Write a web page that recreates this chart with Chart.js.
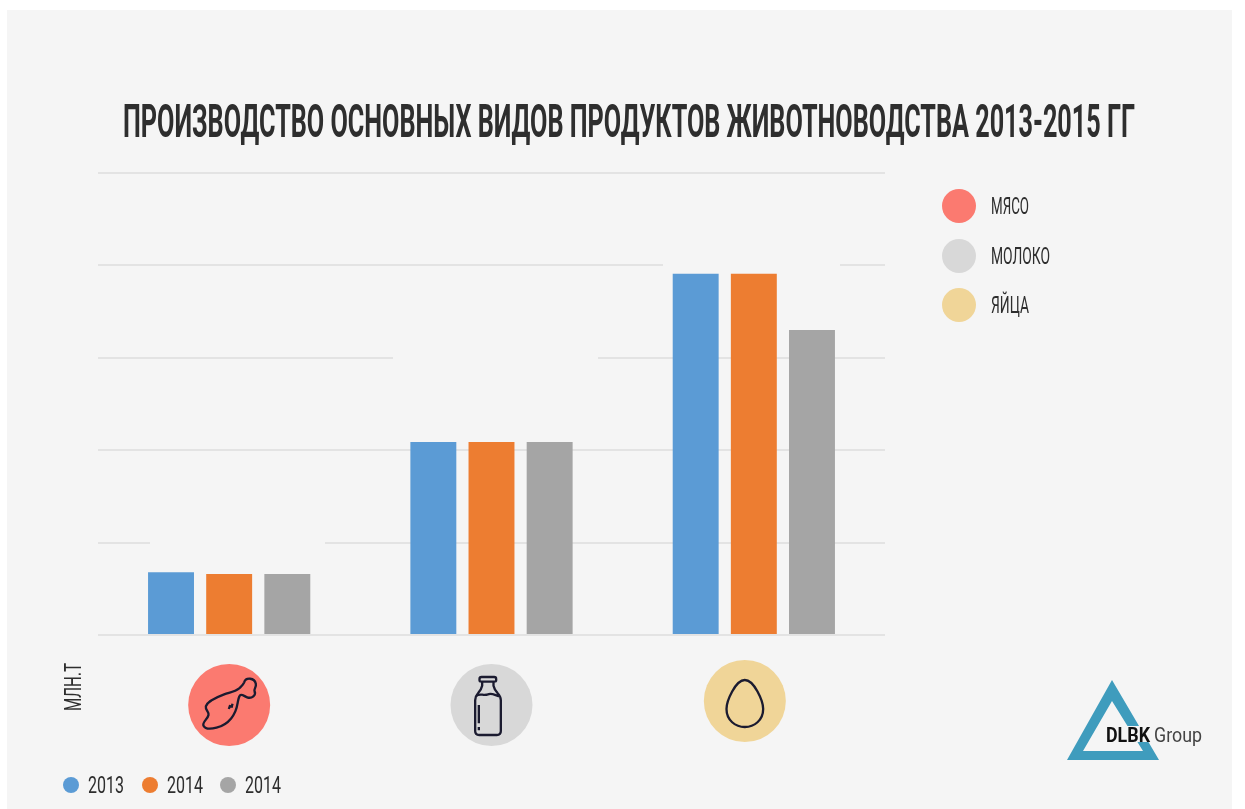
<!DOCTYPE html>
<html lang="ru">
<head>
    <meta charset="UTF-8">
    <title>Производство</title>
    <script src="https://cdn.jsdelivr.net/npm/chart.js"></script>
</head>
<style>
    body{
        margin: 0;
        background: #fff;
    }
    canvas{
        display: block;
    }
</style>
<body>
<canvas id="chart" width="1245" height="809"></canvas>
<script>
    const titleText = 'ПРОИЗВОДСТВО ОСНОВНЫХ ВИДОВ ПРОДУКТОВ ЖИВОТНОВОДСТВА 2013-2015 ГГ';
    const categories = ['МЯСО', 'МОЛОКО', 'ЯЙЦА'];
    const categoryColors = ['#fb7a70', '#d8d8d8', '#f0d598'];
    const seriesNames = ['2013', '2014', '2014'];
    const seriesColors = ['#5b9bd5', '#ed7d31', '#a5a5a5'];
    const series2013 = [0.68, 2.09, 3.91];
    const series2014a = [0.66, 2.09, 3.91];
    const series2014b = [0.66, 2.09, 3.30];
    const unitText = 'МЛН.Т';

    const bg = '#f5f5f5';
    const textColor = '#2e2e2e';
    const iconColor = '#1b1b30';
    const font = '"Liberation Sans Narrow", "Roboto", sans-serif';

    // pieces of the grid that the original has erased: [tick value, from px, to px]
    const gridGaps = [[4, 663, 840], [3, 393, 598], [1, 150, 325]];

    const drumstick = new Path2D('M180 100 C186 94 192 90 195 82 C200 66 226 68 230 86 C232 96 224 102 226 108 C232 120 218 132 204 127 C196 124 190 118 184 120 C178 124 178 132 175 146 C170 178 150 208 112 218 C96 222 78 222 73 212 C68 202 86 192 88 180 C90 170 78 165 80 154 C84 140 108 128 135 118 C152 112 168 110 180 100 Z M149 162 L153 150 M157 158 L160 146');
    const bottle = new Path2D('M120 66 L158 66 Q164 66 164 72 L164 76 Q164 80 158 80 L120 80 Q114 80 114 76 L114 72 Q114 66 120 66 Z M122 80 L122 92 Q120 102 110 114 Q101 124 101 136 L101 228 Q101 240 113 240 L166 240 Q178 240 178 228 L178 136 Q178 124 168 114 Q158 102 156 92 L156 80 M103 124 C115 112 125 124 139 118 C152 112 165 124 176 124 M112 150 L112 205 M112 216 L112 226');
    const egg = new Path2D('M150 87 C178 87 205 150 205 174 C205 208 178 228 150 228 C122 228 95 208 95 174 C95 150 122 87 150 87 Z');
    const icons = [drumstick, bottle, egg];
    const iconDx = [0, 0, -9];
    const iconY = [705, 705, 701];

    function label(ctx, text, x, y, size, width, weight, color) {
        ctx.font = (weight || 'normal') + ' ' + size + 'px ' + font;
        ctx.fillStyle = color || textColor;
        ctx.textAlign = 'left';
        ctx.textBaseline = 'alphabetic';
        ctx.fillText(text, x, y, width);
    }

    function dot(ctx, x, y, r, color) {
        ctx.fillStyle = color;
        ctx.beginPath();
        ctx.arc(x, y, r, 0, Math.PI * 2);
        ctx.fill();
    }

    const panel = {
        id: 'panel',
        beforeDraw(chart) {
            const ctx = chart.ctx;
            ctx.fillStyle = bg;
            ctx.fillRect(7, 10, 1225, 799);
        }
    };

    const gaps = {
        id: 'gaps',
        beforeDatasetsDraw(chart) {
            const ctx = chart.ctx;
            const y = chart.scales.y;
            ctx.fillStyle = bg;
            gridGaps.forEach(g => ctx.fillRect(g[1], y.getPixelForValue(g[0]) - 2, g[2] - g[1], 4));
        }
    };

    const extras = {
        id: 'extras',
        afterDraw(chart) {
            const ctx = chart.ctx;
            const x = chart.scales.x;
            ctx.save();
            label(ctx, titleText, 123, 137, 47, 1012, 'bold');

            // right legend
            const legendY = [206, 256, 305];
            const legendW = [38, 59, 38];
            categories.forEach((c, i) => {
                dot(ctx, 959, legendY[i], 17, categoryColors[i]);
                label(ctx, c, 991, legendY[i] + 8, 24, legendW[i]);
            });

            // category icons below the axis
            categories.forEach((c, i) => {
                const cx = x.getPixelForValue(i) + iconDx[i];
                dot(ctx, cx, iconY[i], 41, categoryColors[i]);
                ctx.save();
                ctx.translate(cx - 50, iconY[i] - 50);
                ctx.scale(1 / 3, 1 / 3);
                ctx.strokeStyle = iconColor;
                ctx.lineWidth = 7;
                ctx.stroke(icons[i]);
                ctx.restore();
            });

            // unit
            ctx.save();
            ctx.translate(81, 711);
            ctx.rotate(-Math.PI / 2);
            label(ctx, unitText, 0, 0, 24, 48);
            ctx.restore();

            // series legend
            const dotX = [71, 150, 228];
            seriesNames.forEach((s, i) => {
                dot(ctx, dotX[i], 785, 8, seriesColors[i]);
                label(ctx, s, dotX[i] + 17, 793, 24, 36);
            });

            // logo
            ctx.fillStyle = '#3f9cbd';
            ctx.beginPath();
            ctx.moveTo(1112, 680); ctx.lineTo(1067, 760); ctx.lineTo(1159, 760); ctx.closePath();
            ctx.moveTo(1112, 701); ctx.lineTo(1083, 751); ctx.lineTo(1143, 751); ctx.closePath();
            ctx.fill('evenodd');
            ctx.fillStyle = bg;
            ctx.fillRect(1105, 726, 60, 16);
            label(ctx, 'DLBK', 1106, 742, 20, 44, 'bold', '#111111');
            label(ctx, 'Group', 1154, 742, 21, 48, 'normal', '#444444');
            ctx.restore();
        }
    };

    new Chart(document.getElementById('chart'), {
        type: 'bar',
        plugins: [panel, gaps, extras],
        data: {
            labels: categories,
            datasets: [
                {label: seriesNames[0], data: series2013, backgroundColor: seriesColors[0]},
                {label: seriesNames[1], data: series2014a, backgroundColor: seriesColors[1]},
                {label: seriesNames[2], data: series2014b, backgroundColor: seriesColors[2]}
            ]
        },
        options: {
            responsive: false,
            animation: false,
            layout: {padding: {left: 98, right: 360, top: 173, bottom: 166}},
            categoryPercentage: 0.665,
            barPercentage: 0.79,
            plugins: {
                legend: {display: false},
                title: {display: false},
                tooltip: {enabled: false}
            },
            scales: {
                x: {
                    grid: {display: false},
                    border: {display: false},
                    ticks: {display: false}
                },
                y: {
                    min: 0,
                    max: 5,
                    grid: {color: '#e3e3e3', lineWidth: 2, drawTicks: false},
                    border: {display: false},
                    ticks: {display: false, stepSize: 1}
                }
            }
        }
    });
</script>
</body>
</html>
